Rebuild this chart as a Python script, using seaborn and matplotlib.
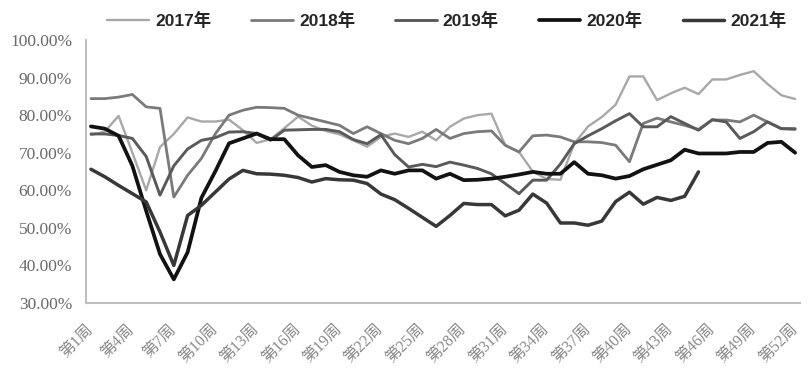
import pandas as pd
import seaborn as sns
import matplotlib.pyplot as plt

weeks = list(range(1, 53))

y2017 = [74.7, 75.6, 79.8, 70.0, 60.0, 71.5, 75.0, 79.4, 78.3, 78.3,
         78.8, 76.0, 72.6, 73.6, 76.5, 79.6, 77.2, 75.8, 74.9, 73.3,
         71.6, 74.2, 75.1, 74.2, 75.6, 73.3, 76.9, 79.1, 80.0, 80.4,
         72.0, 70.2, 65.0, 63.0, 62.8, 72.4, 77.0, 79.5, 82.8, 90.3,
         90.3, 84.0, 85.8, 87.3, 85.6, 89.5, 89.5, 90.7, 91.7, 88.3,
         85.3, 84.3]
y2018 = [84.4, 84.4, 84.8, 85.5, 82.2, 81.8, 58.2, 64.0, 68.5, 75.0,
         80.0, 81.3, 82.1, 82.0, 81.8, 80.0, 79.1, 78.2, 77.3, 75.1,
         76.9, 75.1, 73.3, 72.4, 73.8, 76.2, 73.8, 75.1, 75.6, 75.8,
         72.0, 70.2, 74.5, 74.7, 74.2, 72.9, 72.9, 72.7, 72.0, 67.6,
         77.8, 79.2, 78.2, 77.3, 76.2, 78.7, 78.7, 78.2, 80.0, 78.2,
         76.4, 76.2]
y2019 = [75.0, 75.0, 74.6, 73.8, 69.0, 58.7, 66.5, 71.0, 73.3, 74.0,
         75.5, 75.6, 75.1, 73.3, 76.0, 76.1, 76.2, 76.2, 75.6, 73.5,
         72.4, 74.8, 69.5, 66.2, 66.9, 66.3, 67.5, 66.7, 65.8, 64.4,
         61.8, 59.1, 62.7, 62.7, 67.0, 72.4, 74.5, 76.4, 78.5, 80.4,
         76.9, 76.9, 79.6, 77.8, 76.0, 78.8, 78.2, 73.8, 75.6, 78.2,
         76.4, 76.4]
y2020 = [77.0, 76.4, 74.5, 66.5, 54.5, 43.0, 36.3, 43.5, 58.0, 65.0,
         72.5, 73.8, 75.1, 73.6, 73.6, 69.3, 66.2, 66.7, 64.9, 64.0,
         63.6, 65.3, 64.4, 65.3, 65.3, 63.1, 64.4, 62.7, 62.8, 63.1,
         63.6, 64.2, 64.9, 64.4, 64.4, 67.5, 64.4, 64.0, 63.1, 63.8,
         65.6, 66.8, 68.0, 70.8, 69.8, 69.8, 69.8, 70.2, 70.2, 72.6,
         72.9, 70.0]
y2021 = [65.6, 63.6, 61.3, 59.1, 56.9, 48.9, 40.0, 53.3, 56.0, 59.5,
         63.0, 65.3, 64.4, 64.3, 64.0, 63.4, 62.2, 63.1, 62.8, 62.7,
         61.8, 59.0, 57.5, 55.2, 52.8, 50.4, 53.3, 56.5, 56.2, 56.2,
         53.2, 54.7, 59.0, 56.6, 51.3, 51.3, 50.7, 51.8, 57.0, 59.5,
         56.3, 58.1, 57.3, 58.4, 64.9]

series = {"2017年": y2017, "2018年": y2018, "2019年": y2019,
          "2020年": y2020, "2021年": y2021}
colors = {"2017年": "#a8a8a8", "2018年": "#7a7a7a", "2019年": "#5a5a5a",
          "2020年": "#121212", "2021年": "#383838"}
widths = {"2017年": 1.7, "2018年": 2.0, "2019年": 2.1,
          "2020年": 2.7, "2021年": 2.5}

tick_weeks = list(range(1, 53, 3))
tick_labels = [f"第{w}周" for w in tick_weeks]

sns.set_style("white")
plt.rcParams['font.family'] = ['Liberation Sans', 'Noto Sans CJK SC']

fig = plt.figure(figsize=(8.09, 3.81), dpi=100)
ax = fig.add_axes([0.1063, 0.2047, 0.8827, 0.6903])

for name, vals in series.items():
    df = pd.DataFrame({"week": weeks[:len(vals)], "rate": vals})
    sns.lineplot(data=df, x="week", y="rate", ax=ax, color=colors[name],
                 linewidth=widths[name], label=name, legend=False,
                 solid_joinstyle="round")

ax.set_xlim(0.64, 52.36)
ax.set_ylim(30, 100)
ax.set_yticks(range(30, 101, 10))
ax.set_yticklabels([f"{v:.2f}%" for v in range(30, 101, 10)],
                   family=['Liberation Serif', 'Noto Sans CJK SC'],
                   color="#6a6a6a", fontsize=12.5)
ax.set_xticks(tick_weeks)
ax.set_xticklabels(tick_labels, rotation=45, ha="right", va="center",
                   rotation_mode="anchor", color="#8a8a8a", fontsize=11.5,
                   family=['Liberation Serif', 'Noto Sans CJK SC'])
ax.tick_params(axis="y", length=0, pad=10)
ax.tick_params(axis="x", length=0, pad=17)
ax.set_xlabel("")
ax.set_ylabel("")

for side in ["top", "right"]:
    ax.spines[side].set_visible(False)
for side in ["left", "bottom"]:
    ax.spines[side].set_color("#bfbfbf")
    ax.spines[side].set_linewidth(1.5)

handles, labels = ax.get_legend_handles_labels()
fig.legend(handles, labels, loc="center", bbox_to_anchor=(0.5525, 0.947),
           ncol=5, frameon=False, handlelength=2.4, handletextpad=0.35,
           columnspacing=2.3, prop={"size": 12.5, "weight": "bold"})

fig.savefig("out.png", dpi=100)
